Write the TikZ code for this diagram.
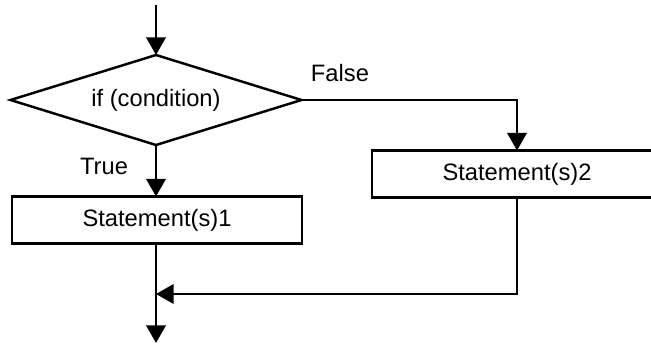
\documentclass[tikz,border=0pt]{standalone}
\usepackage{fontspec}
\setmainfont{Liberation Sans}
\usetikzlibrary{shapes.geometric,arrows.meta}
\begin{document}
\begin{tikzpicture}[line width=1.4pt,
    font=\fontsize{13.5}{16}\selectfont,
    cond/.style={draw, diamond, shape aspect=3.2, minimum width=5.82cm, minimum height=1.8cm, inner sep=1pt, outer sep=0pt},
    stmt/.style={draw, rectangle, minimum width=5.8cm, minimum height=0.94cm, inner sep=0pt, outer sep=0pt},
    flow/.style={-{Triangle[length=10pt,width=11pt]}}]
    \useasboundingbox (0,0) rectangle (13.02,6.92);
    \clip (0,0) rectangle (13.02,6.92);
    \coordinate (start) at (3.12,6.82);
    \node[cond] (cond) at (3.12,4.92) {if (condition)};
    \node[stmt] (stmt1) at (3.14,2.52) {Statement(s)1};
    \node[stmt] (stmt2) at (10.34,3.44) {Statement(s)2};
    \node (truelbl) at (2.08,3.6) {True};
    \node (falselbl) at (6.8,5.46) {False};
    \coordinate (merge) at (3.12,1.04);
    \coordinate (end) at (3.12,0.06);
    \draw[flow] (start) -- (cond.north);
    \draw[flow] (cond.south) -- (cond.south |- stmt1.north);
    \draw[flow] (cond.east) -| (stmt2.north);
    \draw (stmt1.south -| merge) -- (merge);
    \draw[flow] (stmt2.south) |- (merge);
    \draw[flow] (merge) -- (end);
\end{tikzpicture}
\end{document}
